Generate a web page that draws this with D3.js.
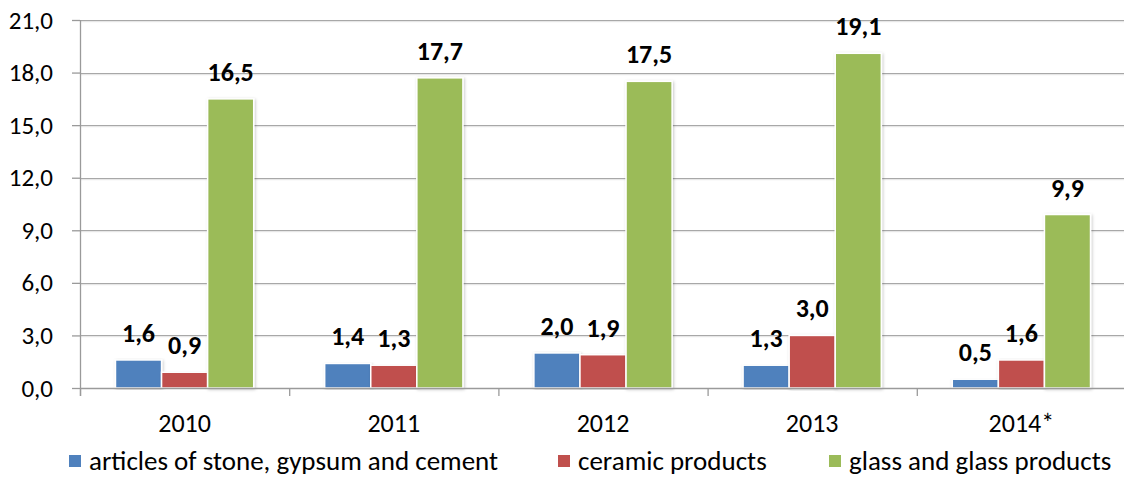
<!DOCTYPE html>
<html>
<head>
<meta charset="utf-8">
<script src="https://cdn.jsdelivr.net/npm/d3@7"></script>
<style>
  body { margin: 0; background: #fff; }
  svg text { font-family: Carlito, Calibri, Lato, "Open Sans", sans-serif; fill: #000; }
</style>
</head>
<body>
<div id="app"></div>
<script>
// data
const years = ['2010', '2011', '2012', '2013', '2014*']
const seriesNames = ['articles of stone, gypsum and cement', 'ceramic products', 'glass and glass products']
const stone = [1.6, 1.4, 2.0, 1.3, 0.5]
const ceramic = [0.9, 1.3, 1.9, 3.0, 1.6]
const glass = [16.5, 17.7, 17.5, 19.1, 9.9]
const yTicks = [0, 3, 6, 9, 12, 15, 18, 21]
const colors = ['#4F81BD', '#C0504D', '#9BBB59']

const width = 1124, height = 477
const margin = { left: 80, top: 20, right: -2, bottom: 89 }
const innerH = height - margin.top - margin.bottom

const svg = d3.select('#app')
  .append('svg')
    .attr('width', width)
    .attr('height', height)

const defs = svg.append('defs')
const shadow = defs.append('filter').attr('id', 'shadow')
    .attr('x', '-20%').attr('y', '-5%').attr('width', '140%').attr('height', '110%')
shadow.append('feDropShadow')
    .attr('dx', 1).attr('dy', 1).attr('stdDeviation', 1.5)
    .attr('flood-color', '#000').attr('flood-opacity', 0.22)

const g = svg.append('g')
    .attr('transform', `translate(${margin.left}, ${margin.top})`)

// scales
const x = d3.scaleBand()
    .domain(years)
    .range([0, width - margin.left - margin.right])
const xSub = d3.scaleBand()
    .domain(d3.range(3))
    .range([0, x.bandwidth()])
    .paddingOuter(0.77)
const y = d3.scaleLinear()
    .domain([0, 21])
    .range([innerH, 0])

// gridlines
g.append('g')
  .selectAll('line')
  .data(yTicks.filter(d => d > 0))
  .join('line')
    .attr('x1', 0)
    .attr('x2', x.range()[1])
    .attr('y1', d => Math.round(y(d)) + 0.5)
    .attr('y2', d => Math.round(y(d)) + 0.5)
    .attr('stroke', '#a8a8a8')
    .attr('stroke-width', 1.2)
g.append('g')
  .selectAll('line')
  .data(yTicks.filter(d => d > 0))
  .join('line')
    .attr('x1', 0)
    .attr('x2', x.range()[1])
    .attr('y1', d => Math.round(y(d)) + 1.7)
    .attr('y2', d => Math.round(y(d)) + 1.7)
    .attr('stroke', '#e2e2e2')
    .attr('stroke-width', 1)

// y axis
const yAxis = g.append('g')
    .call(d3.axisLeft(y).tickValues(yTicks).tickSize(8).tickPadding(19)
      .tickFormat(d => d3.format('.1f')(d).replace('.', ',')))
yAxis.select('.domain').remove()
yAxis.selectAll('.tick line').attr('stroke', '#9a9a9a').attr('stroke-width', 1.3)
yAxis.selectAll('text').style('font-size', '25px')
g.append('line')
    .attr('x1', 0.5).attr('x2', 0.5)
    .attr('y1', 0).attr('y2', innerH + 8)
    .attr('stroke', '#9a9a9a').attr('stroke-width', 1.3)

// bars
const rows = years.map((yr, i) => ({ year: yr, values: [stone[i], ceramic[i], glass[i]] }))
const groups = g.selectAll('.grp')
  .data(rows)
  .join('g')
    .attr('class', 'grp')
    .attr('transform', d => `translate(${x(d.year)}, 0)`)

const cells = groups.selectAll('.cell')
  .data(d => d.values.map((v, k) => ({ v, k })))
  .join('g')
    .attr('class', 'cell')

cells.append('rect')
    .attr('x', d => xSub(d.k))
    .attr('width', xSub.bandwidth())
    .attr('y', d => y(d.v))
    .attr('height', d => innerH - y(d.v))
    .attr('fill', d => colors[d.k])
    .attr('stroke', '#fff')
    .attr('stroke-width', 1.5)
    .attr('filter', 'url(#shadow)')

cells.append('text')
    .attr('x', d => xSub(d.k) + xSub.bandwidth() / 2)
    .attr('y', d => y(d.v) - 18)
    .attr('text-anchor', 'middle')
    .style('font-size', '26px')
    .style('font-weight', '900')
    .text(d => d3.format('.1f')(d.v).replace('.', ','))

// x axis
g.append('line')
    .attr('x1', 0).attr('x2', x.range()[1])
    .attr('y1', innerH + 0.5).attr('y2', innerH + 0.5)
    .attr('stroke', '#9a9a9a').attr('stroke-width', 1.3)
g.append('g')
  .selectAll('line')
  .data(years)
  .join('line')
    .attr('x1', d => x(d) + 0.5).attr('x2', d => x(d) + 0.5)
    .attr('y1', innerH).attr('y2', innerH + 8)
    .attr('stroke', '#9a9a9a').attr('stroke-width', 1.3)
g.append('g')
  .selectAll('text')
  .data(years)
  .join('text')
    .attr('x', d => x(d) + x.bandwidth() / 2)
    .attr('y', innerH + 44)
    .attr('text-anchor', 'middle')
    .style('font-size', '26px')
    .text(d => d)

// legend
const legendX = [69, 558, 829]
const legend = svg.append('g')
  .selectAll('g')
  .data(seriesNames)
  .join('g')
    .attr('transform', (d, i) => `translate(${legendX[i]}, 455)`)
legend.append('rect')
    .attr('width', 12).attr('height', 12)
    .attr('fill', (d, i) => colors[i])
legend.append('text')
    .attr('x', 20).attr('y', 15)
    .style('font-size', '27px')
    .text(d => d)
</script>
</body>
</html>
